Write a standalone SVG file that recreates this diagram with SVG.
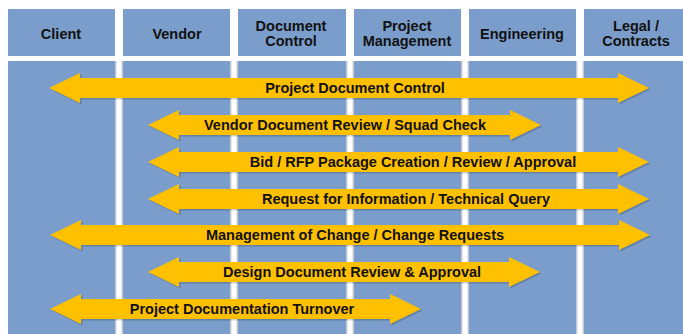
<svg xmlns="http://www.w3.org/2000/svg" width="683" height="334" viewBox="0 0 683 334">
<style>
.lane{fill:#7B9DCB}
.hdr{fill:#7B9DCB}
.ht{font-family:"Liberation Sans",Arial,sans-serif;font-weight:bold;font-size:14.5px;fill:#111;text-anchor:middle}
.arr{fill:#FFC000}
.sh{fill:#000;opacity:0.18}
.at{font-family:"Liberation Sans",Arial,sans-serif;font-weight:bold;font-size:14.5px;fill:#111;text-anchor:middle}
.gl{fill:#C8CCD3}
</style>
<rect x="0" y="0" width="683" height="334" fill="#FFFFFF"/>
<g id="lanes">
<rect class="lane" x="8" y="61" width="107" height="273"/>
<rect class="lane" x="123" y="61" width="107" height="273"/>
<rect class="lane" x="238" y="61" width="108" height="273"/>
<rect class="lane" x="354" y="61" width="107" height="273"/>
<rect class="lane" x="469" y="61" width="107" height="273"/>
<rect class="lane" x="584" y="61" width="99" height="273"/>
<rect class="gl" x="115" y="61" width="1.5" height="273"/>
<rect class="gl" x="121.5" y="61" width="1.5" height="273"/>
<rect class="gl" x="230" y="61" width="1.5" height="273"/>
<rect class="gl" x="236.5" y="61" width="1.5" height="273"/>
<rect class="gl" x="346" y="61" width="1.5" height="273"/>
<rect class="gl" x="352.5" y="61" width="1.5" height="273"/>
<rect class="gl" x="461" y="61" width="1.5" height="273"/>
<rect class="gl" x="467.5" y="61" width="1.5" height="273"/>
<rect class="gl" x="576" y="61" width="1.5" height="273"/>
<rect class="gl" x="582.5" y="61" width="1.5" height="273"/>
</g>
<g id="h-client"><rect class="hdr" x="8" y="9" width="107" height="47"/><text class="ht" x="61" y="39">Client</text></g>
<g id="h-vendor"><rect class="hdr" x="123" y="9" width="107" height="47"/><text class="ht" x="177" y="39">Vendor</text></g>
<g id="h-doccontrol"><rect class="hdr" x="238" y="9" width="108" height="47"/><text class="ht" x="291" y="30.5">Document</text><text class="ht" x="291" y="46">Control</text></g>
<g id="h-pm"><rect class="hdr" x="354" y="9" width="107" height="47"/><text class="ht" x="407" y="30.5">Project</text><text class="ht" x="407" y="46">Management</text></g>
<g id="h-eng"><rect class="hdr" x="469" y="9" width="107" height="47"/><text class="ht" x="522" y="39">Engineering</text></g>
<g id="h-legal"><rect class="hdr" x="584" y="9" width="99" height="47"/><text class="ht" x="636" y="30.5">Legal /</text><text class="ht" x="636" y="46">Contracts</text></g>
<g id="connectors">
<g id="a1">
<polygon class="sh" transform="translate(1.5,1.5)" points="49,88 80,73 80,78 618,78 618,73 649,88 618,103 618,98 80,98 80,103"/>
<polygon class="arr" points="49,88 80,73 80,78 618,78 618,73 649,88 618,103 618,98 80,98 80,103"/>
<text class="at" x="355" y="93">Project Document Control</text>
</g>
<g id="a2">
<polygon class="sh" transform="translate(1.5,1.5)" points="148,125 179,110 179,115 510,115 510,110 541,125 510,140 510,135 179,135 179,140"/>
<polygon class="arr" points="148,125 179,110 179,115 510,115 510,110 541,125 510,140 510,135 179,135 179,140"/>
<text class="at" x="345" y="130">Vendor Document Review / Squad Check</text>
</g>
<g id="a3">
<polygon class="sh" transform="translate(1.5,1.5)" points="148,162 179,147 179,152 618,152 618,147 649,162 618,177 618,172 179,172 179,177"/>
<polygon class="arr" points="148,162 179,147 179,152 618,152 618,147 649,162 618,177 618,172 179,172 179,177"/>
<text class="at" x="413" y="167">Bid / RFP Package Creation / Review / Approval</text>
</g>
<g id="a4">
<polygon class="sh" transform="translate(1.5,1.5)" points="148,199 179,184 179,189 618,189 618,184 649,199 618,214 618,209 179,209 179,214"/>
<polygon class="arr" points="148,199 179,184 179,189 618,189 618,184 649,199 618,214 618,209 179,209 179,214"/>
<text class="at" x="406" y="204">Request for Information / Technical Query</text>
</g>
<g id="a5">
<polygon class="sh" transform="translate(1.5,1.5)" points="50,235 81,220 81,225 619,225 619,220 650,235 619,250 619,245 81,245 81,250"/>
<polygon class="arr" points="50,235 81,220 81,225 619,225 619,220 650,235 619,250 619,245 81,245 81,250"/>
<text class="at" x="355" y="240">Management of Change / Change Requests</text>
</g>
<g id="a6">
<polygon class="sh" transform="translate(1.5,1.5)" points="148,272 179,257 179,262 509,262 509,257 540,272 509,287 509,282 179,282 179,287"/>
<polygon class="arr" points="148,272 179,257 179,262 509,262 509,257 540,272 509,287 509,282 179,282 179,287"/>
<text class="at" x="352" y="277">Design Document Review &amp; Approval</text>
</g>
<g id="a7">
<polygon class="sh" transform="translate(1.5,1.5)" points="50,309 81,294 81,299 390,299 390,294 421,309 390,324 390,319 81,319 81,324"/>
<polygon class="arr" points="50,309 81,294 81,299 390,299 390,294 421,309 390,324 390,319 81,319 81,324"/>
<text class="at" x="242" y="314">Project Documentation Turnover</text>
</g>
</g>
</svg>
